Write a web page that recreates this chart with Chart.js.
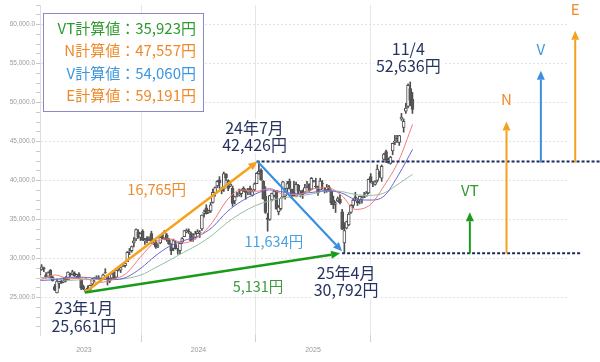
<!DOCTYPE html>
<html><head><meta charset="utf-8">
<script src="https://cdn.jsdelivr.net/npm/chart.js@4.4.1/dist/chart.umd.min.js"></script>
<style>html,body{margin:0;padding:0;background:#fff}</style>
</head><body>
<canvas id="c" width="600" height="362"></canvas>
<script>
// ---- weekly candles (first week ending 2022-08-12) ----
const firstWeek = '2022-08-12';
const open = [
 27900,28600,28800,27900,27700,28500,27600,26400,25600,26800,27100,27000,27600,27300,28000,28000,28100,27800,28000,27300,26400,
 25800,26200,26000,26700,27400,27600,27500,27500,27400,28200,27800,27100,27500,28200,27600,28500,28500,29000,29100,29600,30900,31000,32000,32500,33400,32700,33500,32300,32600,32500,33200,32300,32100,31600,32000,32900,32600,33000,32400,31800,31300,31800,31000,31000,32100,32800,33400,33500,33200,32800,32700,33200,
 33300,33800,35800,36500,35900,36100,37200,38400,39300,40100,39000,38900,40800,40000,39300,39000,37400,38300,38200,38300,39000,38700,38600,39000,38100,38800,39600,40900,41300,39900,38000,35200,35000,37500,38100,38700,36000,36400,37900,38000,39000,39900,38900,38500,38000,39400,38200,38700,38500,39400,39500,38900,
 40000,39300,39200,38800,39600,38700,38800,39200,38600,37500,37000,37400,37600,36000,32000,33900,34300,35900,36800,37900,37400,37500,37700,37900,38000,38400,40500,39600,39500,40000,41000,40300,42700,43700,42400,42200,43800,44900,45400,44900,47900,46800,48900,49500,51800,50400];
const high = [
 28600,29222,28900,28200,28300,28600,27700,26700,27400,27100,27300,27600,27700,28300,28100,28500,28300,28000,28200,27300,26600,
 26000,26500,26600,27500,27600,27800,27800,27500,28000,28700,27900,27500,28100,28300,28500,28700,28900,29300,29400,30900,31300,31600,32700,33800,33700,33300,33700,32600,32800,32800,33500,32500,32400,31900,32800,33300,33600,33200,32600,31900,32500,32200,31300,32000,32700,33600,33800,33800,33400,33200,33500,33700,
 33600,35600,36200,36900,36200,37200,38900,39200,40000,40500,39100,41100,40900,40100,39800,39300,38000,38500,38900,38900,39200,38900,39000,39300,38800,39700,41000,42426,41500,40000,39200,35800,38100,38400,38800,38700,36800,37800,39900,39000,39900,40200,38900,39900,39800,39500,38700,38800,39500,39900,39600,40400,
 40000,40300,39300,40300,40000,39100,39500,39400,38800,38000,37300,37900,38200,36300,34600,34800,35900,36900,37600,38500,37700,38000,38000,38500,38600,40200,40900,39900,40000,42000,41200,42000,43500,43900,42900,43100,44800,45800,45800,45800,48600,47900,49900,52400,52636,51300];
const low = [
 27700,28500,28300,27500,27600,27500,27100,25900,25600,26200,26800,26900,27000,27300,27700,27900,27700,27500,27500,26000,26000,
 25661,25900,25900,26500,27000,27400,27300,27100,27400,28100,26600,26900,27400,27400,27600,28400,28200,29000,28900,29600,30500,30800,31500,32300,32600,32300,32300,31800,32000,32300,31900,31800,31300,31400,31900,32500,32400,32200,31800,30500,31000,31200,30550,30600,31900,32800,33300,33200,32200,32200,32500,33200,
 32700,33600,35300,35700,35800,35900,37100,38000,39100,39000,38300,38600,40000,38700,39200,36700,37000,37900,38000,37900,38600,37600,38200,38200,38000,38700,39600,40800,40000,37600,35800,33500,34900,37400,37900,36300,35600,36200,37800,37600,38500,38900,37700,38000,37900,38300,37900,37700,38400,39100,38600,38800,
 39800,39100,38100,38800,38900,38400,38500,38600,36900,36400,35900,37300,37000,33700,30792,33800,34200,35800,36500,37400,36800,37000,37100,37800,38000,38300,39700,39200,39400,39800,40400,39900,42600,42300,42200,42100,43300,44600,44900,44500,47700,46200,48600,49300,49600,48600];
const close = [
 28547,28930,28641,27650,28214,27567,27153,25937,27116,27090,26891,27105,27199,28263,27900,28283,27778,27901,27527,26235,26094,
 25974,26120,26553,27383,27509,27671,27513,27453,27927,28144,27333,27385,28041,27518,28493,28564,28856,29157,29388,30808,30916,31524,32265,33706,32781,33189,32388,32391,32304,32759,32192,32473,31450,31624,32710,32606,33533,32402,31857,30994,32315,31259,30991,31950,32568,33585,33625,33431,32307,32970,33169,33464,
 33377,35577,35963,35751,36158,36897,38487,39098,39910,39688,38708,40888,40369,38992,39523,37068,37934,38236,38229,38787,38646,38487,38683,38814,38596,39583,40912,41190,40063,37667,35909,35025,38062,38364,38648,36391,36581,37723,39830,38635,39605,38981,37913,38054,39500,38642,38283,38208,39091,39470,38702,40281,
 39894,39190,38451,39931,39572,38787,39149,38776,37155,36887,37053,37677,37120,33780,33585,34730,35705,36830,37503,37754,37160,37965,37741,37834,38403,40150,39810,39569,39819,41456,40800,41820,43378,42633,42718,43018,44768,45045,45354,45769,48088,47582,49299,52200,50300,49100];

// ---- moving averages: [decimal year, value] ----
const ma13 = [[2022.62,27300],[2022.75,27900],[2022.87,27400],[2023.0,27500],[2023.12,26900],[2023.25,27300],[2023.37,28100],[2023.5,30300],[2023.62,32100],[2023.75,32500],[2023.87,32000],[2024.0,32800],[2024.12,34600],[2024.25,37500],[2024.37,38800],[2024.5,38600],[2024.62,39000],[2024.75,38200],[2024.87,38200],[2025.0,38900],[2025.12,39100],[2025.25,38100],[2025.37,36300],[2025.5,36900],[2025.62,39300],[2025.75,42600],[2025.87,47200]];
const ma26 = [[2022.62,27200],[2022.75,27300],[2022.87,27600],[2023.0,27600],[2023.12,27400],[2023.25,27300],[2023.37,27600],[2023.5,28800],[2023.62,30300],[2023.75,31600],[2023.87,32300],[2024.0,32900],[2024.12,34000],[2024.25,36000],[2024.37,37300],[2024.5,38300],[2024.62,38800],[2024.75,38500],[2024.87,38300],[2025.0,38500],[2025.12,38700],[2025.25,38400],[2025.37,37600],[2025.5,37500],[2025.62,38000],[2025.75,40800],[2025.87,44000]];
const ma52 = [[2022.62,27600],[2022.75,27400],[2022.87,27200],[2023.0,27300],[2023.25,27300],[2023.5,27900],[2023.62,28800],[2023.75,29800],[2023.87,30800],[2024.0,31800],[2024.12,33000],[2024.25,34600],[2024.37,35800],[2024.5,36800],[2024.62,37400],[2024.75,37800],[2024.87,38000],[2025.0,38300],[2025.12,38700],[2025.25,38600],[2025.37,38200],[2025.5,38100],[2025.62,38400],[2025.75,39600],[2025.87,40800]];

// ---- axis ticks ----
const yearTicks = [2023, 2024, 2025];
const yTickStep = 1250, yTickFirst = 21250, yTickLast = 62500, yLabelEvery = 5000;

// ---- annotation values ----
const pivotDates  = ['2023-01-04', '2024-07-11', '2025-04-07'];
const pivotValues = [25661, 42426, 30792];
const pivotLabels = [['23年1月','25,661円'], ['24年7月','42,426円'], ['25年4月','30,792円']];
const diffLabels  = ['16,765円', '5,131円', '11,634円'];   // orange, green, blue
const latestDate  = '2025-11-04';
const latestValue = 52636;
const latestLabel = ['11/4', '52,636円'];
const calcNames   = ['VT', 'N', 'V', 'E'];
const calcValues  = [35923, 47557, 54060, 59191];
const calcTexts   = ['VT計算値：35,923円', 'N計算値：47,557円', 'V計算値：54,060円', 'E計算値：59,191円'];

// ---- helpers ----
function decYear(d) {
  if (typeof d === 'string') d = new Date(d + 'T00:00:00Z');
  const y = d.getUTCFullYear();
  const a = Date.UTC(y, 0, 1), b = Date.UTC(y + 1, 0, 1);
  return y + (d.getTime() - a) / (b - a);
}
const w0 = new Date(firstWeek + 'T00:00:00Z').getTime();
const weekX = close.map((_, i) => decYear(new Date(w0 + i * 7 * 86400000)));

const GRAY = '#4f4f4f';
const NAVY = '#27335f';
const C_OR = '#f5a11e', C_GR = '#1a9a1a', C_BL = '#3a8fe0';
const T_OR = '#ee8a2a', T_GR = '#2f9a2f', T_BL = '#3e97de';
const JP = '"Noto Sans CJK JP", "Noto Sans", sans-serif';

function arrow(ctx, x1, y1, x2, y2, color, lw, hl, hw) {
  const a = Math.atan2(y2 - y1, x2 - x1);
  const bx = x2 - Math.cos(a) * hl, by = y2 - Math.sin(a) * hl;
  ctx.save();
  ctx.setLineDash([]);
  ctx.strokeStyle = color; ctx.lineWidth = lw;
  ctx.beginPath(); ctx.moveTo(x1, y1); ctx.lineTo(bx, by); ctx.stroke();
  ctx.fillStyle = color;
  ctx.beginPath(); ctx.moveTo(x2, y2);
  ctx.lineTo(bx + Math.sin(a) * hw / 2, by - Math.cos(a) * hw / 2);
  ctx.lineTo(bx - Math.sin(a) * hw / 2, by + Math.cos(a) * hw / 2);
  ctx.closePath(); ctx.fill();
  ctx.restore();
}
function label(ctx, lines, cx, cy, color, size, lh) {
  ctx.save();
  ctx.font = size + 'px ' + JP;
  const w = Math.max(...lines.map(l => ctx.measureText(l).width));
  ctx.fillStyle = '#fff';
  ctx.fillRect(cx - w / 2 - 2, cy - lh / 2, w + 4, lh * lines.length);
  ctx.fillStyle = color; ctx.textAlign = 'center'; ctx.textBaseline = 'middle';
  lines.forEach((l, i) => ctx.fillText(l, cx, cy + i * lh));
  ctx.restore();
}

const annot = {
  id: 'annot',
  afterDatasetsDraw(chart) {
    const { ctx, scales: { x, y } } = chart;
    const px = d => x.getPixelForValue(typeof d === 'string' ? decYear(d) : d);
    const py = v => y.getPixelForValue(v);
    const sx = px(pivotDates[0]), sy = py(pivotValues[0]);
    const kx = px(pivotDates[1]), ky = py(pivotValues[1]);
    const tx = px(pivotDates[2]), ty = py(pivotValues[2]);

    // dashed reference lines
    ctx.save();
    ctx.strokeStyle = '#1b2a5e'; ctx.lineWidth = 2; ctx.setLineDash([3, 2]);
    ctx.beginPath(); ctx.moveTo(kx - 2, ky); ctx.lineTo(600, ky); ctx.stroke();
    ctx.beginPath(); ctx.moveTo(tx - 1, ty + 1); ctx.lineTo(582, ty + 1); ctx.stroke();
    ctx.restore();

    // diagonal arrows
    arrow(ctx, sx, sy, kx - 1, ky, C_OR, 2.5, 9, 8);
    arrow(ctx, sx, sy, tx - 3, ty + 1, C_GR, 2.5, 9, 8);
    arrow(ctx, kx - 1, ky, tx - 1, ty - 1, C_BL, 2.2, 9, 8);

    // vertical target arrows
    const vx = [2026.37, 2026.69, 2026.99, 2027.29];
    const base = [pivotValues[2], pivotValues[2], pivotValues[1], pivotValues[1]];
    const col = [C_GR, C_OR, C_BL, C_OR];
    const tcol = [T_GR, T_OR, T_BL, T_OR];
    calcValues.forEach((v, i) => {
      const xx = px(vx[i]);
      arrow(ctx, xx, py(base[i]) + 1, xx, py(v), col[i], 2, 9, 8);
      label(ctx, [calcNames[i]], xx, py(v) - 22, tcol[i], 15, 18);
    });

    // pivot labels
    label(ctx, pivotLabels[0], sx - 1, sy + 16, NAVY, 16, 18);
    label(ctx, pivotLabels[1], kx - 4, ky - 34, NAVY, 16, 17);
    label(ctx, pivotLabels[2], tx + 3, ty + 21, NAVY, 16, 17);
    label(ctx, latestLabel, px(latestDate) - 1, py(latestValue) - 33, NAVY, 16, 17);

    // difference labels
    label(ctx, [diffLabels[0]], (sx + kx) / 2 - 15, (sy + ky) / 2 - 38, T_OR, 14.5, 16);
    label(ctx, [diffLabels[1]], (sx + tx) / 2 + 44, (sy + ty) / 2 + 14, '#3d9a3d', 14.5, 16);
    label(ctx, [diffLabels[2]], (kx + tx) / 2 - 27, (ky + ty) / 2 + 34, '#4aa0e0', 14.5, 16);

    // legend box
    ctx.save();
    ctx.fillStyle = '#fff';
    ctx.fillRect(43.5, 13.5, 160, 98);
    ctx.strokeStyle = '#8a8ac8'; ctx.lineWidth = 1;
    ctx.strokeRect(43.5, 13.5, 160, 98);
    ctx.font = '15px ' + JP;
    ctx.textAlign = 'right'; ctx.textBaseline = 'middle';
    calcTexts.forEach((t, i) => { ctx.fillStyle = tcol[i]; ctx.fillText(t, 196, 28.5 + i * 22.2); });
    ctx.restore();
  }
};

new Chart(document.getElementById('c'), {
  type: 'bar',
  data: {
    datasets: [
      { type: 'line', label: '13週', data: ma13.map(p => ({ x: p[0], y: p[1] })), borderColor: '#ef7b78', borderWidth: 1, pointRadius: 0, cubicInterpolationMode: 'monotone', order: 0 },
      { type: 'line', label: '26週', data: ma26.map(p => ({ x: p[0], y: p[1] })), borderColor: '#6c62d2', borderWidth: 1, pointRadius: 0, cubicInterpolationMode: 'monotone', order: 0 },
      { type: 'line', label: '52週', data: ma52.map(p => ({ x: p[0], y: p[1] })), borderColor: '#93bfa2', borderWidth: 1, pointRadius: 0, cubicInterpolationMode: 'monotone', order: 0 },
      { label: 'body', data: weekX.map((xv, i) => ({ x: xv, y: [open[i], close[i]] })),
        backgroundColor: close.map((c, i) => c >= open[i] ? '#ffffff' : '#5a5a5a'),
        borderColor: GRAY, borderWidth: 1, borderSkipped: false, barThickness: 3, grouped: false, order: 1 },
      { label: 'wick', data: weekX.map((xv, i) => ({ x: xv, y: [low[i], high[i]] })),
        backgroundColor: GRAY, barThickness: 1, grouped: false, order: 2 }
    ]
  },
  options: {
    responsive: false, animation: false, devicePixelRatio: 1, events: [],
    layout: { padding: { top: 5, right: 32, left: 0, bottom: 0 } },
    plugins: { legend: { display: false }, tooltip: { enabled: false } },
    scales: {
      x: {
        type: 'linear', min: 2022.616, max: 2027.227, offset: false,
        afterBuildTicks: s => { s.ticks = yearTicks.map(v => ({ value: v })); },
        afterFit: s => { s.height = 27; },
        grid: { color: '#e6e6e6', tickLength: 7, tickColor: '#d0d0d0' },
        border: { display: false },
        ticks: { autoSkip: false, maxRotation: 0, padding: 4, color: '#999', font: { family: 'Liberation Sans', size: 7 }, callback: v => String(v) }
      },
      y: {
        min: 20200, max: 62500,
        afterBuildTicks: s => { const t = []; for (let v = yTickFirst; v <= yTickLast; v += yTickStep) t.push({ value: v }); s.ticks = t; },
        afterFit: s => { s.width = 40; },
        grid: { color: c => (c.tick && c.tick.value % yLabelEvery === 0) ? '#e3e3e3' : 'rgba(0,0,0,0)', tickLength: 4, tickColor: '#c8c8c8' },
        border: { display: true, color: '#dddddd', dash: [2, 2] },
        ticks: { autoSkip: false, padding: 1, color: '#9a9a9a', font: { family: 'Liberation Sans', size: 6.5 },
          callback: v => v % yLabelEvery === 0 ? v.toLocaleString('en-US', { minimumFractionDigits: 1, maximumFractionDigits: 1 }) : '' }
      }
    }
  },
  plugins: [annot]
});
</script>
</body></html>
